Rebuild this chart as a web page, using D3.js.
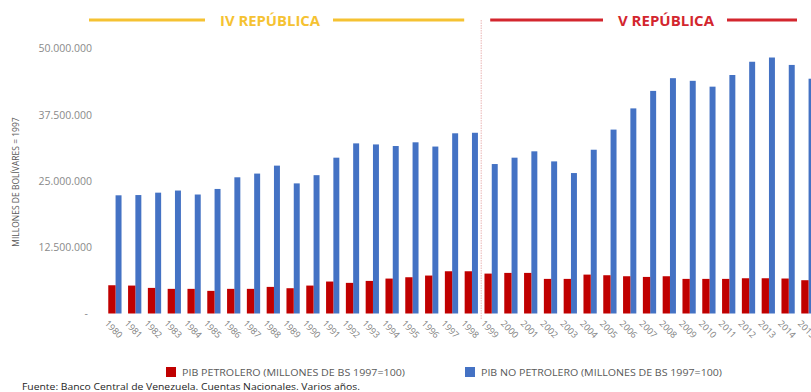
<!DOCTYPE html>
<html>
<head>
<meta charset="utf-8">
<script src="https://cdn.jsdelivr.net/npm/d3@7"></script>
<style>
  body { margin: 0; background: #fff; }
  svg { display: block; }
  text { font-family: "Open Sans", "Noto Sans", sans-serif; }
</style>
</head>
<body>
<script>
// Años del período
const years = ["1980","1981","1982","1983","1984","1985","1986","1987","1988","1989",
               "1990","1991","1992","1993","1994","1995","1996","1997","1998","1999",
               "2000","2001","2002","2003","2004","2005","2006","2007","2008","2009",
               "2010","2011","2012","2013","2014","2015"];

// PIB petrolero (millones de Bs. de 1997)
const pibPetrolero = [5330000,5270000,4830000,4650000,4650000,4270000,4650000,4650000,5020000,4770000,
                      5270000,6030000,5780000,6150000,6590000,6840000,7160000,7970000,7970000,7530000,
                      7660000,7660000,6530000,6530000,7340000,7220000,7030000,6900000,7030000,6530000,
                      6530000,6530000,6650000,6650000,6600000,6280000];

// PIB no petrolero (millones de Bs. de 1997)
const pibNoPetrolero = [22300000,22350000,22800000,23200000,22450000,23500000,25700000,26400000,27900000,24550000,
                        26100000,29400000,32100000,31900000,31600000,32300000,31500000,34000000,34100000,28200000,
                        29400000,30600000,28700000,26500000,30900000,34700000,38700000,42000000,44400000,43900000,
                        42800000,45000000,47500000,48300000,46900000,44300000];

const yTicks = [0, 12500000, 25000000, 37500000, 50000000];

const seriesNames = ["PIB PETROLERO (MILLONES DE BS 1997=100)",
                     "PIB NO PETROLERO (MILLONES DE BS 1997=100)"];
const periodNames = ["IV REPÚBLICA", "V REPÚBLICA"];
const firstYearV = "1999";

const W = 811, H = 392;
const colPet = "#c00000", colNoPet = "#4472c4";
const colIV = "#f5c232", colV = "#d3262e";

const svg = d3.select("body").append("svg")
  .attr("width", W).attr("height", H);

const x = d3.scaleBand().domain(years)
  .range([105, 817.8]).paddingInner(0.33).paddingOuter(0.165);
const y = d3.scaleLinear().domain([0, 50000000]).range([313.5, 48.5]);

const bw = x.bandwidth();
const fPet = 0.55;

const esLocale = d3.formatLocale({ decimal: ",", thousands: ".", grouping: [3], currency: ["", ""] });
const fmt = esLocale.format(",");

// Eje Y
const yAxis = svg.append("g")
  .attr("transform", "translate(92,0)")
  .call(d3.axisLeft(y).tickValues(yTicks).tickSize(0).tickPadding(0)
    .tickFormat(d => d === 0 ? "-" : fmt(d)));
yAxis.select(".domain").remove();
yAxis.selectAll("text")
  .attr("fill", "#8a8a8a")
  .style("font-size", "10.5px")
  .attr("dx", d => d === 0 ? -4 : 0);

svg.append("text")
  .attr("transform", "translate(19,182) rotate(-90)")
  .attr("text-anchor", "middle")
  .attr("fill", "#595959")
  .style("font-size", "8.5px")
  .text("MILLONES DE BOLÍVARES = 1997");

// Barras
const rows = years.map((yr, i) => ({ yr, pet: pibPetrolero[i], nopet: pibNoPetrolero[i] }));

svg.append("g").selectAll("rect").data(rows).join("rect")
  .attr("x", d => x(d.yr) + bw * fPet)
  .attr("width", bw * (1 - fPet))
  .attr("y", d => y(d.nopet))
  .attr("height", d => y(0) - y(d.nopet))
  .attr("fill", colNoPet);

svg.append("g").selectAll("rect").data(rows).join("rect")
  .attr("x", d => x(d.yr))
  .attr("width", bw * fPet)
  .attr("y", d => y(d.pet))
  .attr("height", d => y(0) - y(d.pet))
  .attr("fill", colPet);

// Etiquetas del eje X
svg.append("g").selectAll("text").data(years).join("text")
  .attr("transform", d => `translate(${x(d) - 4},${324}) rotate(46)`)
  .attr("fill", "#808080")
  .style("font-size", "9px")
  .text(d => d);

// Separador entre períodos
const xSep = (x(years[years.indexOf(firstYearV) - 1]) + bw + x(firstYearV)) / 2;
svg.append("line")
  .attr("x1", xSep).attr("x2", xSep).attr("y1", 20).attr("y2", 320)
  .attr("stroke", "#eab4b4").attr("stroke-width", 1).attr("stroke-dasharray", "1.5,1");

// Encabezados de período
function header(cx, x0, x1, name, color, w) {
  const g = svg.append("g");
  g.append("line").attr("x1", x0).attr("x2", cx - w / 2 - 15)
    .attr("y1", 20).attr("y2", 20).attr("stroke", color).attr("stroke-width", 3);
  g.append("line").attr("x1", cx + w / 2 + 13).attr("x2", x1)
    .attr("y1", 20).attr("y2", 20).attr("stroke", color).attr("stroke-width", 3);
  g.append("text").attr("x", cx).attr("y", 26)
    .attr("text-anchor", "middle").attr("fill", color)
    .style("font-size", "14px").style("font-weight", "bold")
    .attr("textLength", w).attr("lengthAdjust", "spacingAndGlyphs")
    .text(name);
}
header(270, 89, xSep - 17, periodNames[0], colIV, 100);
header(666, xSep + 9, 797, periodNames[1], colV, 96);

// Leyenda
const legend = [
  { name: seriesNames[0], color: colPet, x: 166, w: 223 },
  { name: seriesNames[1], color: colNoPet, x: 465, w: 241 }
];
const lg = svg.append("g").selectAll("g").data(legend).join("g")
  .attr("transform", d => `translate(${d.x},367)`);
lg.append("rect").attr("width", 10).attr("height", 10).attr("fill", d => d.color);
lg.append("text").attr("x", 16).attr("y", 8.5)
  .attr("fill", "#595959").style("font-size", "9px")
  .attr("textLength", d => d.w).attr("lengthAdjust", "spacingAndGlyphs")
  .text(d => d.name);

// Fuente
svg.append("text")
  .attr("x", 22).attr("y", 390)
  .attr("fill", "#262626").style("font-size", "9.5px")
  .attr("textLength", 338).attr("lengthAdjust", "spacingAndGlyphs")
  .text("Fuente: Banco Central de Venezuela. Cuentas Nacionales. Varios años.");
</script>
</body>
</html>
